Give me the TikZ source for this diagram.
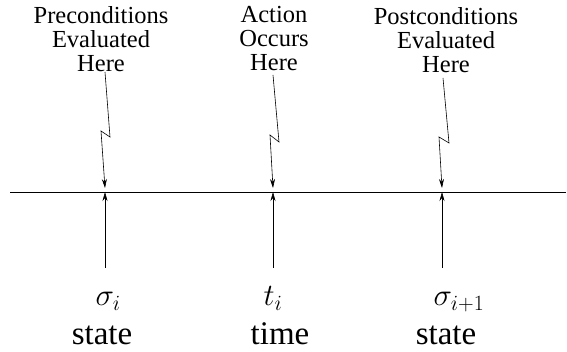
\RequirePackage{fix-cm}
\documentclass[tikz,border=0pt]{standalone}
\usepackage{fontspec}
\setmainfont{Liberation Serif}
\usetikzlibrary{arrows.meta}
\begin{document}
\begin{tikzpicture}[x=1pt,y=1pt,
  toplabel/.style={align=center,inner sep=0pt,anchor=north,
    font=\fontsize{24.5}{24}\selectfont},
  mathlabel/.style={inner sep=0pt,anchor=base,font=\fontsize{31}{31}\selectfont},
  wordlabel/.style={inner sep=0pt,anchor=base,font=\fontsize{33}{33}\selectfont},
  arr/.style={-{Stealth[length=9pt,width=5pt]},line width=0.6pt}]
\useasboundingbox (0,0) rectangle (567,352);
% time line
\coordinate (L) at (10,160);
\coordinate (R) at (566,160);
\draw[line width=0.8pt] (L) -- (R);
% points on the line
\coordinate (p1) at (105,160);
\coordinate (p2) at (273,160);
\coordinate (p3) at (442,160);
\coordinate (q1) at (105,164);
\coordinate (q2) at (273,164);
\coordinate (q3) at (442,164);
% top labels
\node[toplabel] (pre) at (101,346) {Preconditions\\Evaluated\\Here};
\node[toplabel] (act) at (274,346) {Action\\Occurs\\Here};
\node[toplabel] (post) at (446,345) {Postconditions\\Evaluated\\Here};
% zigzag arrows
\coordinate (a1) at (105,280);
\coordinate (b1) at (110,215);
\coordinate (c1) at (101,221);
\coordinate (a2) at (273,277);
\coordinate (b2) at (279,210);
\coordinate (c2) at (270,217);
\coordinate (a3) at (443,274);
\coordinate (b3) at (449,209);
\coordinate (c3) at (439,215);
\draw[arr] (a1) -- (b1) -- (c1) -- (q1);
\draw[arr] (a2) -- (b2) -- (c2) -- (q2);
\draw[arr] (a3) -- (b3) -- (c3) -- (q3);
% bottom labels
\node[mathlabel] (s1) at (108,46) {$\sigma_i$};
\node[mathlabel] (t1) at (273,46) {$t_i$};
\node[mathlabel] (s2) at (459,46) {$\sigma_{i+1}$};
\node[wordlabel] (w1) at (102,7) {state};
\node[wordlabel] (w2) at (280,7) {time};
\node[wordlabel] (w3) at (446,7) {state};
% up arrows
\coordinate (u1) at (105,84);
\coordinate (u2) at (273,84);
\coordinate (u3) at (442,84);
\draw[arr] (u1) -- (p1);
\draw[arr] (u2) -- (p2);
\draw[arr] (u3) -- (p3);
\end{tikzpicture}
\end{document}
